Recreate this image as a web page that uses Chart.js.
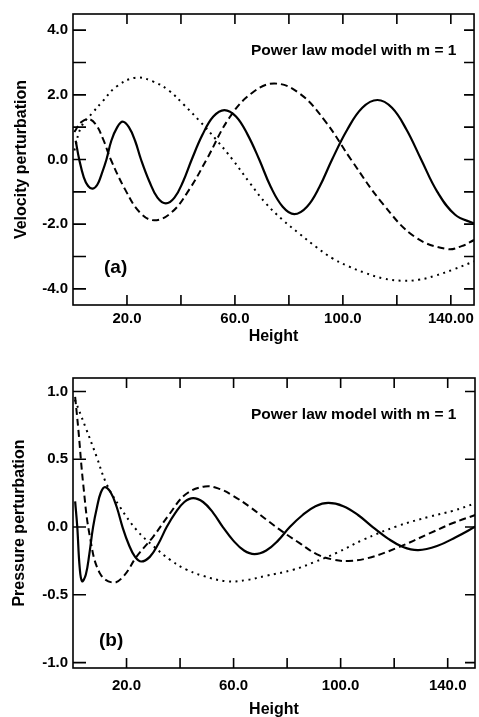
<!DOCTYPE html>
<html>
<head>
<meta charset="utf-8">
<script src="https://cdn.jsdelivr.net/npm/chart.js@4.4.1/dist/chart.umd.min.js"></script>
<style>
  html, body { margin: 0; padding: 0; background: #fff; }
  #wrap { position: relative; width: 479px; height: 717px; }
  canvas { position: absolute; left: 0; }
  #velocityChart { top: 0; }
  #pressureChart { top: 345px; }
</style>
</head>
<body>
<div id="wrap">
  <canvas id="velocityChart" width="479" height="345"></canvas>
  <canvas id="pressureChart" width="479" height="372"></canvas>
</div>
<script>
// (a) velocity perturbation vs height
const solidAx = [1, 2.3, 4, 5.6, 7.3, 9, 10.6, 12.4, 14.2, 16.4, 18.4, 20.7, 23, 25.2, 28.3, 31.3, 34.4, 37.6, 40.8, 44, 48, 52, 56.1, 60.4, 64.7, 69, 73.3, 77.7, 82, 86.7, 91.3, 96, 101.6, 107.2, 112.8, 118.2, 123.6, 129, 135, 141.5, 148.6];
const solidAy = [0.58, 0.0, -0.55, -0.82, -0.9, -0.78, -0.45, 0.0, 0.58, 1.0, 1.17, 1.0, 0.58, 0.0, -0.68, -1.18, -1.36, -1.18, -0.68, 0.0, 0.77, 1.33, 1.53, 1.33, 0.77, 0.0, -0.85, -1.46, -1.69, -1.46, -0.85, 0.0, 0.92, 1.6, 1.84, 1.6, 0.92, 0.0, -1.0, -1.7, -1.98];
const dashedAx = [0.5, 3, 5.8, 8.5, 11.2, 14, 19.4, 24.7, 30.1, 36.6, 43, 49.5, 58, 66.2, 74.6, 84, 93.5, 103, 114.9, 126.8, 138.7, 144, 148.6];
const dashedAy = [0.85, 1.15, 1.25, 1.08, 0.62, 0.0, -0.94, -1.63, -1.88, -1.63, -0.94, 0.0, 1.3, 2.05, 2.35, 2.04, 1.18, 0.0, -1.38, -2.4, -2.77, -2.68, -2.49];
const dottedAx = [0.5, 3, 7.3, 11, 16, 23.3, 30, 35.7, 41, 46.8, 53, 59.1, 65.3, 71.5, 77.6, 83.8, 90, 96, 102, 108, 115, 122, 128, 134, 141, 148.6];
const dottedAy = [0.28, 1.0, 1.45, 1.8, 2.25, 2.53, 2.4, 2.12, 1.7, 1.2, 0.62, 0.0, -0.7, -1.36, -1.86, -2.29, -2.7, -3.05, -3.3, -3.5, -3.68, -3.75, -3.72, -3.6, -3.4, -3.15];

// (b) pressure perturbation vs height
const solidBx = [0.8, 1.6, 2.5, 3.4, 4.8, 6.1, 7.5, 9, 10.4, 11.9, 14.1, 16.3, 18.5, 20.8, 23.2, 25.5, 28.7, 31.8, 35, 38.3, 41.6, 44.9, 48.6, 52.3, 56, 59.9, 63.9, 67.8, 72.2, 76.6, 81, 85.8, 90.6, 95.4, 101, 106.5, 112, 117.7, 123.3, 129, 136, 143, 150.5];
const solidBy = [0.19, 0.0, -0.3, -0.40, -0.35, -0.2, 0.0, 0.15, 0.255, 0.295, 0.255, 0.15, 0.0, -0.127, -0.22, -0.254, -0.22, -0.127, 0.0, 0.107, 0.185, 0.214, 0.185, 0.107, 0.0, -0.1, -0.173, -0.2, -0.173, -0.1, 0.0, 0.089, 0.154, 0.178, 0.154, 0.089, 0.0, -0.085, -0.147, -0.17, -0.14, -0.075, 0.005];
const dashedBx = [0.8, 2, 3.8, 6.3, 10, 15, 19, 23.7, 30, 36.2, 42, 49.3, 55, 59.9, 66, 72.3, 78, 84.8, 91, 97.2, 103, 110, 120.9, 133.4, 142, 150.5];
const dashedBy = [0.96, 0.72, 0.32, -0.07, -0.34, -0.41, -0.36, -0.22, -0.07, 0.10, 0.24, 0.30, 0.28, 0.23, 0.15, 0.054, -0.03, -0.12, -0.2, -0.24, -0.25, -0.23, -0.155, -0.045, 0.03, 0.09];
const dottedBx = [0.7, 5, 8.8, 12.5, 17.5, 23.7, 30, 36.2, 42, 48.6, 57.4, 65, 72, 82.3, 90, 98.5, 108.4, 120.9, 133.4, 142, 150.5];
const dottedBy = [0.94, 0.72, 0.52, 0.32, 0.15, -0.02, -0.14, -0.24, -0.31, -0.36, -0.40, -0.39, -0.36, -0.315, -0.26, -0.19, -0.094, 0.005, 0.078, 0.12, 0.177];

// tick labels
const xLabelValues = [20, 60, 100, 140];
const xTickLabelsA = ['20.0', '60.0', '100.0', '140.00'];
const xTickLabelsB = ['20.0', '60.0', '100.0', '140.0'];
const xTickMarks = [20, 40, 60, 80, 100, 120, 140];
const yLabelValuesA = [4, 2, 0, -2, -4];
const yTickLabelsA = ['4.0', '2.0', '0.0', '-2.0', '-4.0'];
const yTickMarksA = [4, 3, 2, 1, 0, -1, -2, -3, -4];
const yLabelValuesB = [1, 0.5, 0, -0.5, -1];
const yTickLabelsB = ['1.0', '0.5', '0.0', '-0.5', '-1.0'];
const yTickMarksB = [1, 0.5, 0, -0.5, -1];

const FONT = '"Liberation Sans", Arial, Helvetica, sans-serif';

function toPoints(xs, ys) {
    return xs.map((x, i) => ({ x: x, y: ys[i] }));
}

function labelFor(values, labels) {
    return function (value) {
        const i = values.findIndex(v => Math.abs(v - value) < 1e-6);
        return i >= 0 ? labels[i] : '';
    };
}

function curve(xs, ys, dash) {
    return {
        data: toPoints(xs, ys),
        borderColor: '#000',
        borderWidth: dash.length ? 2 : 2.2,
        borderDash: dash,
        pointRadius: 0,
        fill: false,
        tension: 0.4
    };
}

// box, inward tick marks and the text notes
const frameTicks = {
    id: 'frameTicks',
    afterDatasetsDraw(chart, args, opts) {
        const { ctx, chartArea: a, scales: { x, y } } = chart;
        ctx.save();
        ctx.strokeStyle = '#000';
        ctx.lineWidth = 1.6;
        ctx.strokeRect(a.left, a.top, a.right - a.left, a.bottom - a.top);
        ctx.beginPath();
        opts.xTicks.forEach(v => {
            const px = x.getPixelForValue(v);
            ctx.moveTo(px, a.bottom); ctx.lineTo(px, a.bottom - 10);
            ctx.moveTo(px, a.top); ctx.lineTo(px, a.top + 10);
        });
        opts.yTicks.forEach(v => {
            const py = y.getPixelForValue(v);
            ctx.moveTo(a.left, py); ctx.lineTo(a.left + 13, py);
            ctx.moveTo(a.right, py); ctx.lineTo(a.right - 10, py);
        });
        ctx.stroke();
        ctx.fillStyle = '#000';
        ctx.textBaseline = 'middle';
        ctx.textAlign = 'left';
        ctx.font = 'bold 15.5px ' + FONT;
        ctx.fillText(opts.note, a.left + 178, a.top + 37);
        ctx.font = 'bold 19px ' + FONT;
        ctx.fillText(opts.panel, a.left + opts.panelX, a.bottom - opts.panelY);
        ctx.restore();
    }
};

function makeChart(id, cfg) {
    const tickFont = { family: FONT, size: 15, weight: 'bold' };
    const titleFont = { family: FONT, size: 16, weight: 'bold' };
    return new Chart(document.getElementById(id), {
        type: 'line',
        data: { datasets: cfg.datasets },
        options: {
            responsive: false,
            animation: false,
            layout: { padding: { top: cfg.top, right: 4, left: cfg.left, bottom: 0 } },
            plugins: {
                legend: { display: false },
                tooltip: { enabled: false },
                frameTicks: cfg.frame
            },
            scales: {
                x: {
                    type: 'linear', min: 0, max: cfg.xMax,
                    grid: { display: false, drawTicks: false }, border: { display: false },
                    ticks: {
                        stepSize: 20, autoSkip: false, maxRotation: 0, padding: cfg.xPad,
                        includeBounds: false,
                        color: '#000', font: tickFont,
                        callback: labelFor(xLabelValues, cfg.xLabels)
                    },
                    title: { display: true, text: 'Height', color: '#000', font: titleFont, padding: { top: 0, bottom: cfg.titlePad } },
                    afterFit: s => { s.height = cfg.xHeight; }
                },
                y: {
                    type: 'linear', min: cfg.yMin, max: cfg.yMax,
                    grid: { display: false, drawTicks: false }, border: { display: false },
                    ticks: {
                        stepSize: cfg.yStep, autoSkip: false, padding: 5,
                        includeBounds: false,
                        color: '#000', font: tickFont,
                        callback: labelFor(cfg.yValues, cfg.yLabels)
                    },
                    title: { display: true, text: cfg.yTitle, color: '#000', font: titleFont },
                    afterFit: s => { s.width = 73 - cfg.left; }
                }
            }
        },
        plugins: [frameTicks]
    });
}

makeChart('velocityChart', {
    datasets: [
        curve(solidAx, solidAy, []),
        curve(dashedAx, dashedAy, [7, 4]),
        curve(dottedAx, dottedAy, [2, 4.5])
    ],
    top: 12, left: 8, xHeight: 40, xMax: 148.6, xPad: 5, titlePad: -1,
    xLabels: xTickLabelsA,
    yMin: -4.5, yMax: 4.5, yStep: 2,
    yValues: yLabelValuesA, yLabels: yTickLabelsA,
    yTitle: 'Velocity perturbation',
    frame: { xTicks: xTickMarks, yTicks: yTickMarksA, note: 'Power law model with m = 1', panel: '(a)', panelX: 31, panelY: 37 }
});

makeChart('pressureChart', {
    datasets: [
        curve(solidBx, solidBy, []),
        curve(dashedBx, dashedBy, [7, 4]),
        curve(dottedBx, dottedBy, [2, 4.5])
    ],
    top: 33, left: 6, xHeight: 49, xMax: 150.2, xPad: 9, titlePad: -2,
    xLabels: xTickLabelsB,
    yMin: -1.04, yMax: 1.1, yStep: 0.5,
    yValues: yLabelValuesB, yLabels: yTickLabelsB,
    yTitle: 'Pressure perturbation',
    frame: { xTicks: xTickMarks, yTicks: yTickMarksB, note: 'Power law model with m = 1', panel: '(b)', panelX: 26, panelY: 27 }
});
</script>
</body>
</html>
